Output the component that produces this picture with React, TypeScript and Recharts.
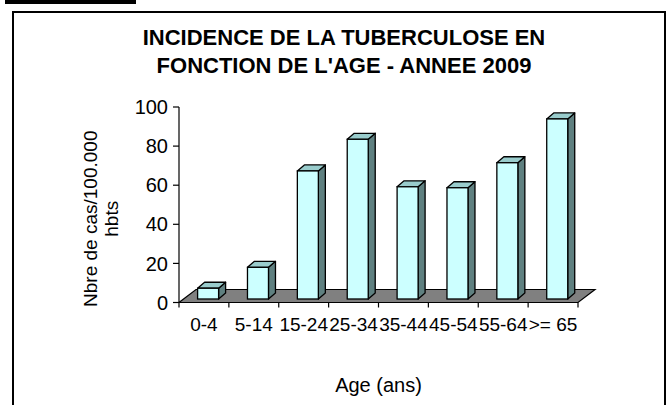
import React from 'react';
import { BarChart, Bar, XAxis, YAxis, ReferenceArea } from 'recharts';

// Incidence of tuberculosis per 100 000 inhabitants, by age group (2009)
const ageGroups = ['0-4', '5-14', '15-24', '25-34', '35-44', '45-54', '55-64', '>= 65'];
const incidence = [5.5, 16.2, 65.5, 81.7, 57.4, 56.9, 69.7, 92.1];
const yTicks = [0, 20, 40, 60, 80, 100];

const titleLines = ['INCIDENCE DE LA TUBERCULOSE EN', "FONCTION DE L'AGE - ANNEE 2009"];
const yTitleLines = ['Nbre de cas/100.000', 'hbts'];
const xTitle = 'Age (ans)';

const rows = ageGroups.map((age, i) => ({ age, value: incidence[i] }));

const FONT = '"Liberation Sans", Arial, Helvetica, sans-serif';

// 3D look: depth of the floor, and where the columns sit inside that depth
const FLOOR_DX = 17;
const FLOOR_DY = 13;
const BAR_SHIFT_X = 4.6;
const BAR_SHIFT_Y = 3.5;
const BAR_DX = 7;
const BAR_DY = 6;

const FRONT = '#CCFFFF';
const TOP = '#99CCCC';
const SIDE = '#5F8080';
const FLOOR = '#808080';

function Column3D(props: any) {
  const { x, y, width, height } = props;
  if (x == null || y == null || !width || height == null) return null;
  const fx = x + BAR_SHIFT_X;
  const fy = y - BAR_SHIFT_Y;
  const w = width;
  const h = height;
  const top = `${fx},${fy} ${fx + BAR_DX},${fy - BAR_DY} ${fx + w + BAR_DX},${fy - BAR_DY} ${fx + w},${fy}`;
  const side = `${fx + w},${fy} ${fx + w + BAR_DX},${fy - BAR_DY} ${fx + w + BAR_DX},${fy + h - BAR_DY} ${fx + w},${fy + h}`;
  return (
    <g>
      <polygon points={side} fill={SIDE} stroke="#000" strokeWidth={1.3} strokeLinejoin="round" />
      <polygon points={top} fill={TOP} stroke="#000" strokeWidth={1.3} strokeLinejoin="round" />
      <rect x={fx} y={fy} width={w} height={h} fill={FRONT} stroke="#000" strokeWidth={1.3} />
    </g>
  );
}

function Floor(props: any) {
  const { x, y, width } = props;
  if (x == null || y == null || width == null) return null;
  const pts = `${x},${y} ${x + width},${y} ${x + width + FLOOR_DX},${y - FLOOR_DY} ${x + FLOOR_DX},${y - FLOOR_DY}`;
  return <polygon points={pts} fill={FLOOR} stroke="#000" strokeWidth={1.2} />;
}

const TICK_LEN = 5;
const TICK_GAP = 10.5;

function AgeTick(props: any) {
  const { x, y, payload, index, visibleTicksCount } = props;
  const half = payload && payload.offset ? payload.offset : 399 / 16;
  const axisY = y - TICK_LEN - TICK_GAP;
  const isLast = visibleTicksCount != null ? index === visibleTicksCount - 1 : index === ageGroups.length - 1;
  return (
    <g>
      <line x1={x - half} y1={axisY} x2={x - half} y2={axisY + TICK_LEN} stroke="#000" strokeWidth={1.2} />
      {isLast && (
        <line x1={x + half} y1={axisY} x2={x + half} y2={axisY + TICK_LEN} stroke="#000" strokeWidth={1.2} />
      )}
      <text x={x} y={y} dy="0.71em" textAnchor="middle" fontSize={19} fontFamily={FONT} fill="#000">
        {payload.value}
      </text>
    </g>
  );
}

function YTitle(props: any) {
  const vb = props.viewBox || { x: 0, y: 107, width: 179, height: 195 };
  const cy = vb.y + vb.height / 2 + 14;
  const lines = [96.5, 118];
  return (
    <g>
      {yTitleLines.map((t, i) => (
        <text
          key={t}
          x={lines[i]}
          y={cy}
          transform={`rotate(-90, ${lines[i]}, ${cy})`}
          textAnchor="middle"
          fontSize={19}
          fontFamily={FONT}
          fill="#000"
        >
          {t}
        </text>
      ))}
    </g>
  );
}

export default function App() {
  return (
    <div
      style={{
        position: 'absolute',
        left: 0,
        top: 0,
        width: 672,
        height: 405,
        overflow: 'hidden',
        background: '#fff',
        fontFamily: FONT,
      }}
    >
      <div style={{ position: 'absolute', left: 5, top: 0, width: 131, height: 4, background: '#000' }} />
      <div
        style={{
          position: 'absolute',
          left: 12,
          top: 11,
          width: 654,
          height: 460,
          boxSizing: 'border-box',
          border: '2px solid #000',
        }}
      />
      <div style={{ position: 'absolute', left: 0, top: 0 }}>
        <BarChart
          width={672}
          height={405}
          data={rows}
          margin={{ top: 107, right: 94, bottom: 72.5, left: 0 }}
        >
          <XAxis
            dataKey="age"
            height={30}
            axisLine={{ stroke: '#000', strokeWidth: 1.2 }}
            tickLine={false}
            tickSize={TICK_LEN}
            tickMargin={TICK_GAP}
            interval={0}
            tick={<AgeTick />}
          />
          <YAxis
            width={179}
            domain={[0, 100]}
            ticks={yTicks}
            interval={0}
            axisLine={{ stroke: '#000', strokeWidth: 1.2 }}
            tickLine={{ stroke: '#000', strokeWidth: 1.2 }}
            tickSize={6}
            tickMargin={5}
            tick={{ fontSize: 20, fontFamily: FONT, fill: '#000' }}
            label={<YTitle />}
          />
          <ReferenceArea y1={0} y2={0} ifOverflow="visible" shape={<Floor />} zIndex={50} />
          <Bar dataKey="value" barSize={21} isAnimationActive={false} shape={<Column3D />} />
        </BarChart>
      </div>
      <svg
        width={672}
        height={405}
        style={{ position: 'absolute', left: 0, top: 0, pointerEvents: 'none' }}
      >
        {titleLines.map((t, i) => (
          <text
            key={t}
            x={344}
            y={45 + i * 27.7}
            textAnchor="middle"
            fontSize={22}
            fontWeight="bold"
            fontFamily={FONT}
            fill="#000"
          >
            {t}
          </text>
        ))}
        <text x={378.5} y={392} textAnchor="middle" fontSize={20} fontFamily={FONT} fill="#000">
          {xTitle}
        </text>
      </svg>
    </div>
  );
}
